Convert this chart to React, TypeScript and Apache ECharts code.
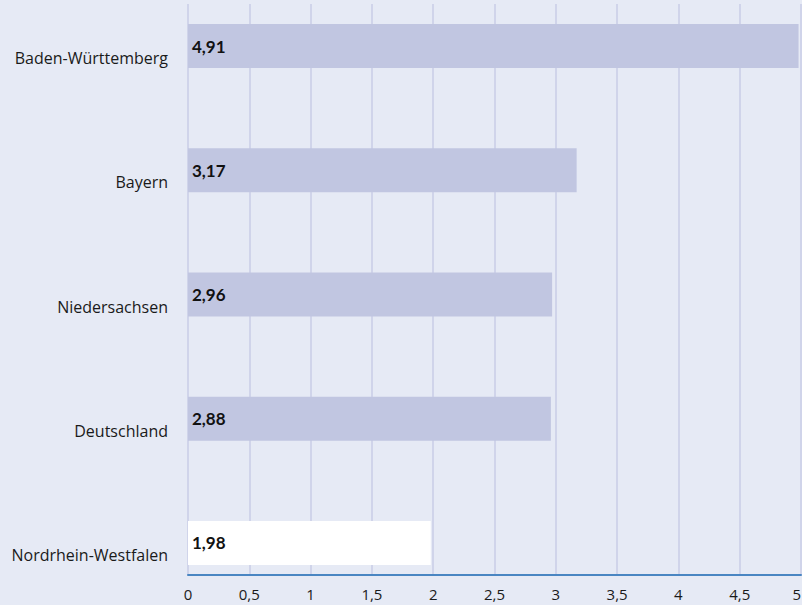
import React, { useEffect, useRef } from "react";
import * as echarts from "echarts";

const categories = ["Baden-Württemberg", "Bayern", "Niedersachsen", "Deutschland", "Nordrhein-Westfalen"];
const barValues = [4.98, 3.17, 2.97, 2.96, 1.98];
const labelTexts = ["4,91", "3,17", "2,96", "2,88", "1,98"];
const barColors = ["#c1c6e1", "#c1c6e1", "#c1c6e1", "#c1c6e1", "#ffffff"];
const xMin = 0;
const xMax = 5;
const xInterval = 0.5;

export default function App() {
  const ref = useRef<HTMLDivElement>(null);
  useEffect(() => {
    document.body.style.margin = "0";
    const chart = echarts.init(ref.current!, null, { renderer: "svg" });
    chart.setOption({
      animation: false,
      backgroundColor: "#e6eaf5",
      grid: [
        { left: 188, right: 1, top: -16, height: 621, outerBoundsMode: "none", containLabel: false },
        { left: 188, right: 1, top: 4, bottom: 30, outerBoundsMode: "none", containLabel: false },
      ],
      xAxis: [
        { gridIndex: 0, type: "value", min: xMin, max: xMax, interval: xInterval, show: false },
        {
          gridIndex: 1,
          type: "value",
          min: xMin,
          max: xMax,
          interval: xInterval,
          axisLine: { show: true, lineStyle: { color: "#4a86c2", width: 2 } },
          axisTick: { show: false },
          splitLine: { show: true, lineStyle: { color: "#c8cce6", width: 1.5 } },
          axisLabel: {
            margin: 11,
            fontSize: 15,
            color: "#1a1a1a",
            fontFamily: "Open Sans",
            alignMaxLabel: "right",
            formatter: (v: number) => String(v).replace(".", ","),
          },
        },
      ],
      yAxis: [
        {
          gridIndex: 0,
          type: "category",
          data: categories,
          inverse: true,
          axisLine: { show: false },
          axisTick: { show: false },
          axisLabel: {
            margin: 20,
            fontSize: 16,
            color: "#1a1a1a",
            fontFamily: "Open Sans",
            verticalAlign: "top",
            lineHeight: 24,
          },
        },
        { gridIndex: 1, type: "value", show: false },
      ],
      series: [
        {
          type: "bar",
          xAxisIndex: 0,
          yAxisIndex: 0,
          barWidth: 44,
          data: barValues.map((v, i) => ({ value: v, itemStyle: { color: barColors[i] } })),
          label: {
            show: true,
            position: "insideLeft",
            distance: 4,
            fontSize: 17,
            fontWeight: "bold",
            fontFamily: "Lato",
            color: "#111",
            formatter: (p: any) => labelTexts[p.dataIndex],
          },
        },
      ],
    });
    return () => chart.dispose();
  }, []);
  return <div ref={ref} style={{ position: "fixed", left: 0, top: 0, width: 802, height: 605 }} />;
}
